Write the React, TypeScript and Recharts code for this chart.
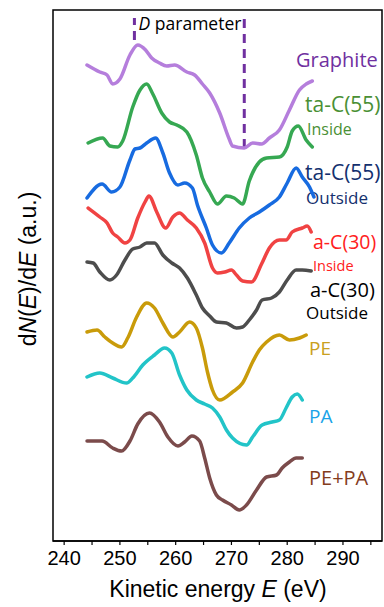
import { LineChart, Line, XAxis, YAxis, ReferenceLine, ReferenceArea, Customized } from "recharts";
import React from "react";

// [kinetic energy (eV), dN/dE offset (a.u.)]
const graphite = [
  [244.1, 476], [246.4, 469], [247.7, 466], [248.7, 457], [250.0, 462], [251.8, 486], [253.2, 496],
  [254.6, 491], [255.7, 483], [257.1, 478], [258.4, 475], [259.8, 476], [262.0, 469], [263.4, 466],
  [264.8, 457], [266.1, 448], [267.9, 428], [269.6, 402], [270.2, 395], [272.3, 393], [273.8, 398],
  [275.4, 397], [276.8, 403], [278.6, 411], [280.4, 431], [282.2, 451], [283.4, 457], [284.5, 460],
];
const taC55Inside = [
  [244.3, 398], [246.9, 403], [248.2, 395], [249.6, 394], [250.5, 400], [252.3, 434], [253.6, 451],
  [254.8, 457], [255.9, 447], [257.5, 428], [258.9, 419], [260.2, 416], [262.0, 409], [263.7, 386],
  [264.8, 363], [266.1, 349], [267.5, 337], [269.1, 345], [270.5, 343], [272.0, 337], [273.2, 360],
  [275.0, 379], [276.3, 383], [278.6, 384], [280.0, 394], [280.9, 410], [282.0, 415], [283.4, 401],
  [284.5, 394],
];
const taC55Outside = [
  [244.1, 343], [246.8, 357], [248.5, 349], [250.0, 354], [251.8, 381], [252.7, 392], [253.6, 393],
  [254.8, 398], [256.4, 403], [257.7, 388], [258.9, 368], [260.4, 356], [261.6, 358], [263.0, 353],
  [263.9, 336], [265.5, 313], [266.6, 296], [268.2, 288], [269.6, 298], [271.4, 313], [273.2, 323],
  [275.0, 329], [276.8, 336], [278.6, 344], [280.0, 358], [281.6, 373], [282.7, 364], [284.0, 354],
  [284.8, 344],
];
const aC30Inside = [
  [244.3, 333], [246.4, 324], [247.7, 318], [248.7, 308], [249.6, 304], [250.9, 298], [251.8, 301],
  [253.2, 323], [254.5, 339], [255.2, 345], [256.6, 329], [258.2, 313], [259.5, 324], [260.7, 328],
  [262.1, 321], [263.7, 313], [265.2, 298], [266.6, 273], [267.5, 268], [268.8, 269], [270.0, 271],
  [270.9, 266], [272.0, 260], [273.6, 259], [275.4, 277], [276.8, 293], [278.6, 301], [279.8, 301],
  [280.9, 309], [282.7, 313], [283.6, 315], [284.3, 309],
];
const aC30Outside = [
  [244.1, 279], [245.2, 278], [246.4, 269], [248.2, 261], [249.4, 266], [250.9, 281], [252.3, 292],
  [253.6, 294], [254.8, 298], [256.2, 298], [257.7, 286], [259.3, 278], [260.7, 273], [262.1, 263],
  [263.7, 246], [264.8, 233], [266.1, 225], [267.3, 219], [269.1, 218], [270.9, 213], [272.0, 214],
  [273.2, 221], [274.5, 231], [275.5, 241], [277.2, 243], [278.6, 249], [280.0, 261], [281.6, 271],
  [282.7, 271], [284.3, 270],
];
const pe = [
  [244.1, 209], [245.9, 211], [247.3, 204], [248.7, 198], [250.3, 194], [251.4, 203], [253.0, 224],
  [254.8, 238], [256.2, 233], [257.7, 218], [259.5, 204], [260.7, 209], [262.5, 219], [263.7, 213],
  [264.8, 193], [265.7, 169], [266.6, 151], [267.9, 141], [270.2, 149], [272.0, 158], [273.8, 179],
  [275.0, 191], [276.3, 199], [278.6, 206], [280.4, 201], [282.2, 203], [283.4, 206],
];
const pa = [
  [244.1, 164], [246.4, 168], [248.7, 163], [251.2, 158], [252.3, 163], [254.1, 176], [256.2, 186],
  [258.0, 193], [259.3, 188], [260.7, 166], [262.0, 151], [263.7, 141], [265.2, 137], [266.6, 133],
  [267.9, 124], [269.1, 111], [270.2, 103], [272.7, 96], [273.8, 104], [275.5, 116], [277.3, 119],
  [278.6, 121], [279.8, 133], [280.9, 144], [281.8, 147], [282.7, 141],
];
const pePa = [
  [244.1, 100], [246.8, 100], [248.7, 93], [250.3, 90], [251.8, 100], [253.2, 117], [255.3, 128],
  [257.1, 119], [258.6, 104], [260.4, 95], [261.6, 99], [262.9, 105], [264.3, 100], [265.2, 83],
  [266.1, 63], [267.3, 46], [268.4, 41], [270.0, 36], [271.4, 31], [272.7, 36], [274.5, 51],
  [276.3, 64], [278.1, 66], [279.1, 73], [280.4, 79], [281.6, 83], [282.7, 83],
];

const X_DOMAIN = [238, 297];
const Y_DOMAIN = [0, 531];
const xTicks = [240, 245, 250, 255, 260, 265, 270, 275, 280, 285, 290, 295];
const dMarkers = [
  { e: 252.6, from: 501, to: 523 },
  { e: 272.3, from: 393, to: 523 },
];

const series = [
  { name: "graphite", pts: graphite, color: "#b57edc" },
  { name: "taC55Inside", pts: taC55Inside, color: "#36a852" },
  { name: "taC55Outside", pts: taC55Outside, color: "#176be0" },
  { name: "aC30Inside", pts: aC30Inside, color: "#f04343" },
  { name: "aC30Outside", pts: aC30Outside, color: "#4d4d4d" },
  { name: "pe", pts: pe, color: "#c99b0a" },
  { name: "pa", pts: pa, color: "#22c4c8" },
  { name: "pePa", pts: pePa, color: "#7b4b4b" },
];

const LABEL_FONT = "'Open Sans', 'Noto Sans', sans-serif";
const AXIS_FONT = "'Liberation Sans', Arial, sans-serif";

const Labels = () => (
  <g fontFamily={LABEL_FONT}>
    <text x={190} y={30} fontSize={17.5} textAnchor="middle" fill="#000">
      <tspan fontStyle="italic">D</tspan> parameter
    </text>
    <text x={296} y={67} fontSize={20} fill="#7030a0">Graphite</text>
    <text x={305} y={112} fontSize={21} fill="#4a9035">ta-C(55)</text>
    <text x={307} y={135} fontSize={16} fill="#4a9035">Inside</text>
    <text x={305} y={180} fontSize={21} fill="#14306e">ta-C(55)</text>
    <text x={306} y={204} fontSize={17} fill="#14306e">Outside</text>
    <text x={313} y={249} fontSize={19.5} fill="#ff2020">a-C(30)</text>
    <text x={313} y={270.5} fontSize={14.5} fill="#ff2020">Inside</text>
    <text x={310} y={296.5} fontSize={20} fill="#000">a-C(30)</text>
    <text x={306} y={319} fontSize={17} fill="#000">Outside</text>
    <text x={309} y={355} fontSize={19} fill="#c9a020">PE</text>
    <text x={309} y={423} fontSize={19} fill="#1aa3e8">PA</text>
    <text x={309} y={485} fontSize={20} fill="#843c1c">PE+PA</text>
    <text x={218} y={597} fontSize={23} fontFamily={AXIS_FONT} textAnchor="middle" fill="#000">
      Kinetic energy <tspan fontStyle="italic">E</tspan> (eV)
    </text>
    <text
      x={36}
      y={269}
      fontSize={23}
      fontFamily={AXIS_FONT}
      textAnchor="middle"
      fill="#000"
      transform="rotate(-90 36 269)"
    >
      d<tspan fontStyle="italic">N</tspan>(<tspan fontStyle="italic">E</tspan>)/d<tspan fontStyle="italic">E</tspan> (a.u.)
    </text>
  </g>
);

export default function App() {
  return (
    <div style={{ position: "absolute", left: 0, top: 0, width: 384, height: 607, background: "#fff" }}>
      <LineChart width={384} height={607} margin={{ top: 10, right: 2, bottom: 26, left: 53 }}>
        <XAxis
          type="number"
          dataKey="e"
          domain={X_DOMAIN}
          ticks={xTicks}
          allowDataOverflow
          height={40}
          tickSize={4}
          tickMargin={6}
          stroke="#000"
          axisLine={{ stroke: "#000", strokeWidth: 1.5 }}
          tickLine={{ stroke: "#000", strokeWidth: 1.2 }}
          tick={{ fontSize: 20, fontFamily: AXIS_FONT, fill: "#000" }}
          tickFormatter={(v) => (v % 10 === 0 ? String(v) : "")}
        />
        <YAxis type="number" domain={Y_DOMAIN} allowDataOverflow hide />
        {/* plot frame */}
        <ReferenceArea
          x1={X_DOMAIN[0]}
          x2={X_DOMAIN[1]}
          y1={Y_DOMAIN[0]}
          y2={Y_DOMAIN[1]}
          fill="none"
          fillOpacity={0}
          stroke="#000"
          strokeWidth={1.5}
          strokeOpacity={1}
        />
        {dMarkers.map((m) => (
          <ReferenceLine
            key={m.e}
            segment={[{ x: m.e, y: m.from }, { x: m.e, y: m.to }]}
            stroke="#7030a0"
            strokeWidth={3}
            strokeDasharray="9 6"
          />
        ))}
        {series.map((s) => (
          <Line
            key={s.name}
            data={s.pts.map(([e, v]) => ({ e, v }))}
            dataKey="v"
            type="monotone"
            stroke={s.color}
            strokeWidth={3.5}
            strokeLinecap="round"
            strokeLinejoin="round"
            dot={false}
            isAnimationActive={false}
          />
        ))}
        <Customized component={Labels} />
      </LineChart>
    </div>
  );
}
